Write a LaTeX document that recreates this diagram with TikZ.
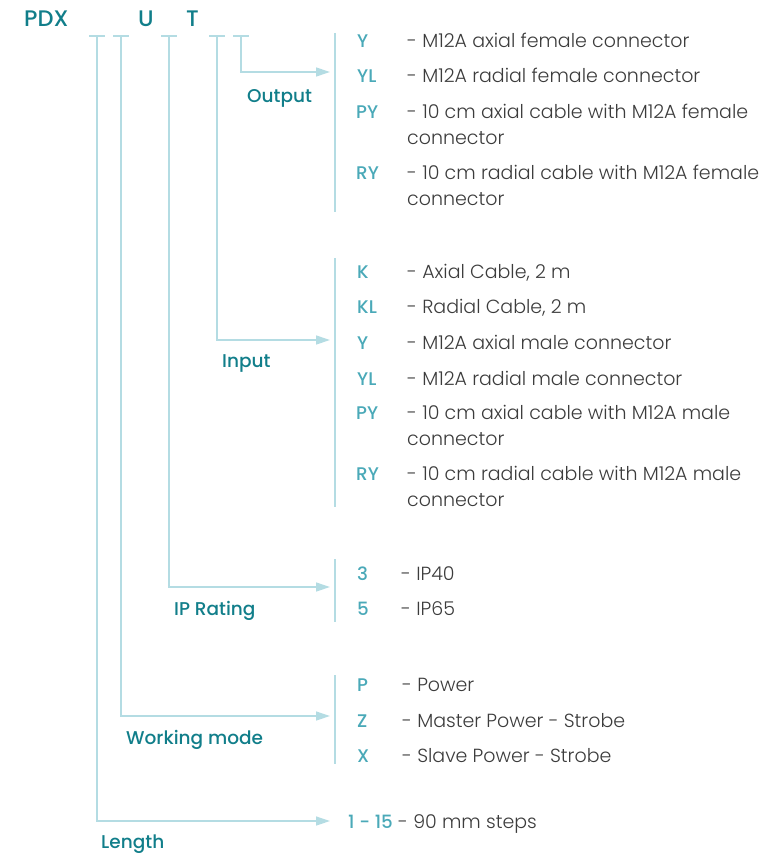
\documentclass[tikz,border=0pt]{standalone}
\usepackage{fontspec}
\setmainfont{Poppins Light}
\newfontfamily\medfont{Poppins Medium}
\usetikzlibrary{arrows.meta}
\definecolor{darkteal}{HTML}{117E8A}
\definecolor{codeteal}{HTML}{4AA9B8}
\definecolor{linec}{HTML}{B4DCE3}
\definecolor{desc}{HTML}{3C3C3C}
\tikzset{
  lbl/.style={anchor=base west,inner sep=0pt,text=darkteal,font=\medfont\fontsize{18.5}{22}\selectfont},
  hdr/.style={anchor=base west,inner sep=0pt,text=darkteal,font=\medfont\fontsize{22.5}{26}\selectfont},
  code/.style={anchor=base west,inner sep=0pt,text=codeteal,font=\medfont\fontsize{18.3}{22}\selectfont},
  dsc/.style={anchor=base west,inner sep=0pt,text=desc,font=\fontsize{19}{22}\selectfont},
  wire/.style={draw=linec,line width=1.3pt},
  conn/.style={wire,-{Triangle[length=14pt,width=9pt,fill=linec]}},
}
\begin{document}
\begin{tikzpicture}[x=1pt,y=-1pt]
\useasboundingbox (0,0) rectangle (778,853);
% header
\node[hdr] (pdx) at (24,27) {PDX};
\node[hdr] (u) at (138,27) {U};
\node[hdr] (t) at (186,27) {T};
% tick coordinates
\coordinate (t1) at (97,36);
\coordinate (t2) at (121,36);
\coordinate (t3) at (169,36);
\coordinate (t4) at (217,36);
\coordinate (t5) at (241,36);
\foreach \c in {t1,t2,t3,t4,t5}
  \draw[wire] ([xshift=-8pt]\c) -- ([xshift=8pt]\c);
% arrow targets
\coordinate (a1) at (330,72);
\coordinate (a2) at (330,340);
\coordinate (a3) at (330,587);
\coordinate (a4) at (330,716);
\coordinate (a5) at (330,821);
\draw[conn] (t5) |- (a1);
\draw[conn] (t4) |- (a2);
\draw[conn] (t3) |- (a3);
\draw[conn] (t2) |- (a4);
\draw[conn] (t1) |- (a5);
% brackets
\coordinate (b1t) at (335,33);  \coordinate (b1b) at (335,212);
\coordinate (b2t) at (335,258); \coordinate (b2b) at (335,507);
\coordinate (b3t) at (335,559); \coordinate (b3b) at (335,622);
\coordinate (b4t) at (335,675); \coordinate (b4b) at (335,764);
\draw[wire] (b1t) -- (b1b);
\draw[wire] (b2t) -- (b2b);
\draw[wire] (b3t) -- (b3b);
\draw[wire] (b4t) -- (b4b);
% group labels
\node[lbl] (lout) at (247,103) {Output};
\node[lbl] (lin) at (222,367) {Input};
\node[lbl] (lip) at (174,615) {IP Rating};
\node[lbl] (lwm) at (126,744) {Working mode};
\node[lbl] (llen) at (101,848) {Length};
% Output
\node[code] (o1c) at (357,48) {Y};
\node[dsc] (o1d) at (407,48) {- M12A axial female connector};
\node[code] (o2c) at (357,83) {YL};
\node[dsc] (o2d) at (407,83) {- M12A radial female connector};
\node[code] (o3c) at (356,119) {PY};
\node[dsc] (o3d) at (407,119) {- 10 cm axial cable with M12A female};
\node[dsc] (o3e) at (407,145) {connector};
\node[code] (o4c) at (356,179) {RY};
\node[dsc] (o4d) at (407,179) {- 10 cm radial cable with M12A female};
\node[dsc] (o4e) at (407,205) {connector};
% Input
\node[code] (i1c) at (357,278) {K};
\node[dsc] (i1d) at (407,278) {- Axial Cable, 2 m};
\node[code] (i2c) at (357,313) {KL};
\node[dsc] (i2d) at (407,313) {- Radial Cable, 2 m};
\node[code] (i3c) at (357,349) {Y};
\node[dsc] (i3d) at (407,349) {- M12A axial male connector};
\node[code] (i4c) at (357,385) {YL};
\node[dsc] (i4d) at (407,385) {- M12A radial male connector};
\node[code] (i5c) at (356,419) {PY};
\node[dsc] (i5d) at (407,419) {- 10 cm axial cable with M12A male};
\node[dsc] (i5e) at (407,445) {connector};
\node[code] (i6c) at (356,480) {RY};
\node[dsc] (i6d) at (407,480) {- 10 cm radial cable with M12A male};
\node[dsc] (i6e) at (407,506) {connector};
% IP
\node[code] (p1c) at (357,580) {3};
\node[dsc] (p1d) at (401,580) {- IP40};
\node[code] (p2c) at (357,615) {5};
\node[dsc] (p2d) at (401,615) {- IP65};
% Working mode
\node[code] (w1c) at (357,691) {P};
\node[dsc] (w1d) at (402,691) {- Power};
\node[code] (w2c) at (357,727) {Z};
\node[dsc] (w2d) at (402,727) {- Master Power - Strobe};
\node[code] (w3c) at (357,762) {X};
\node[dsc] (w3d) at (402,762) {- Slave Power - Strobe};
% Length
\node[code] (l1c) at (348,828) {1 - 15};
\node[dsc] (l1d) at (398,828) {- 90 mm steps};
\end{tikzpicture}
\end{document}
